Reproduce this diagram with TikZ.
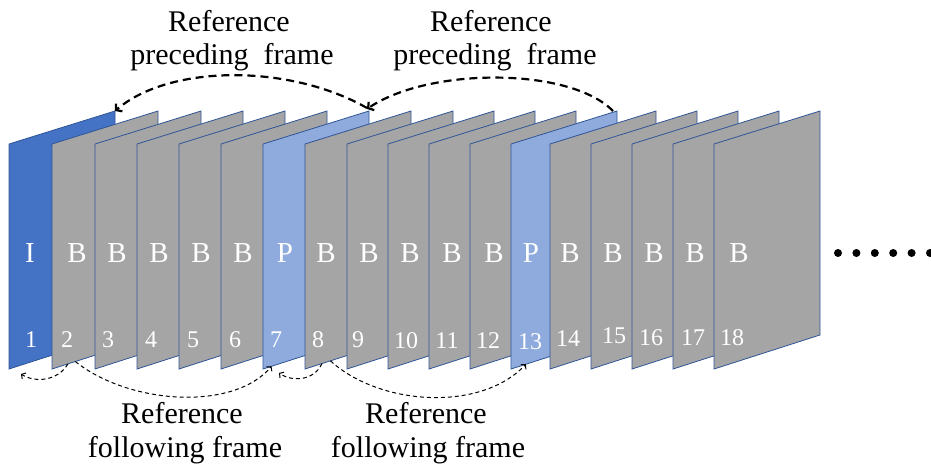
\documentclass[tikz,border=0pt]{standalone}
\usepackage{fontspec}
\setmainfont{Liberation Serif}
\usetikzlibrary{arrows.meta,calc}

\definecolor{iframe}{HTML}{4472C4}
\definecolor{pframe}{HTML}{8FAADC}
\definecolor{bframe}{HTML}{A5A5A5}
\definecolor{frameedge}{HTML}{2F5597}

\tikzset{
  frameshape/.style={draw=frameedge, line width=0.8pt, line join=miter},
  typelabel/.style={text=white, font=\fontsize{29}{29}\selectfont, anchor=base, inner sep=0pt},
  numlabel/.style={text=white, font=\fontsize{24}{24}\selectfont, anchor=base, inner sep=0pt},
  caption/.style={font=\fontsize{30}{33}\selectfont, anchor=base, inner sep=0pt},
  prevref/.style={dash pattern=on 8pt off 5pt, line width=2.2pt,
    -{Straight Barb[length=4pt,width=10pt]}},
  nextref/.style={dash pattern=on 4pt off 3pt, line width=1pt,
    -{Straight Barb[length=3pt,width=7pt]}},
}

\begin{document}
\begin{tikzpicture}[x=1pt,y=-1pt]
\useasboundingbox (0,0) rectangle (931,468);

% the frames of the sequence, drawn back to front
\foreach \n/\x/\t/\c/\lx/\nx/\ny in {
  1/9/I/iframe/30/31/347,
  2/52/B/bframe/77/67/347,
  3/95/B/bframe/117/108/347,
  4/137/B/bframe/159/151/347,
  5/179/B/bframe/201/193/347,
  6/221/B/bframe/243/235/347,
  7/263/P/pframe/285/276/347,
  8/305/B/bframe/326/318/347,
  9/347/B/bframe/369/358/347,
  10/388/B/bframe/410/406/348,
  11/429/B/bframe/452/447/348,
  12/470/B/bframe/494/488/348,
  13/511/P/pframe/531/530/349,
  14/550/B/bframe/570/568/346,
  15/591/B/bframe/613/614/343,
  16/632/B/bframe/654/651/345,
  17/673/B/bframe/695/693/345,
  18/714/B/bframe/739/732/345}
{
  \coordinate (f\n-tl) at (\x,144);
  \coordinate (f\n-tr) at (\x+106,111);
  \coordinate (f\n-br) at (\x+106,335);
  \coordinate (f\n-bl) at (\x,369);
  \draw[frameshape, fill=\c] (f\n-tl) -- (f\n-tr) -- (f\n-br) -- (f\n-bl) -- cycle;
  \node[typelabel] (t\n) at (\lx,262) {\t};
  \node[numlabel] (n\n) at (\nx,\ny) {\n};
}

% more frames follow
\foreach \i in {0,...,5}
  \fill (838+18.4*\i,253) circle (4);

% references to the preceding frame (P frames)
\draw[prevref] ([shift={(-2,-3)}]f7-tr) .. controls (290,64) and (170,64) .. (f1-tr);
\draw[prevref] ([shift={(-4,0)}]f13-tr) .. controls (570,67) and (429,67) .. ([shift={(-2,-2)}]f7-tr);

% references of the B frames
\coordinate (c2a) at ($(f2-bl)!0.15!(f2-br)$);
\coordinate (c2b) at ($(f2-bl)!0.22!(f2-br)$);
\coordinate (c8a) at ($(f8-bl)!0.16!(f8-br)$);
\coordinate (c8b) at ($(f8-bl)!0.24!(f8-br)$);
\coordinate (c7in) at ($(f7-bl)!0.08!(f7-br)$);
\coordinate (c13in) at ($(f13-bl)!0.14!(f13-br)$);

\draw[nextref] (c2a) .. controls (58,381) and (35,383) .. ([shift={(12,5)}]f1-bl);
\draw[nextref] (c2b) .. controls (130,405) and (234,411) .. (c7in);
\draw[nextref] (c8a) .. controls (314,381) and (292,382) .. ([shift={(16,4)}]f7-bl);
\draw[nextref] (c8b) .. controls (380,406) and (481,412) .. (c13in);

% captions
\node[caption] (pa1) at (229,32) {Reference};
\node[caption] (pa2) at (232,65) {preceding~~frame};
\node[caption] (pb1) at (491,32) {Reference};
\node[caption] (pb2) at (495,65) {preceding~~frame};
\node[caption] (fa1) at (182,423) {Reference};
\node[caption] (fa2) at (185,457) {following frame};
\node[caption] (fb1) at (426,423) {Reference};
\node[caption] (fb2) at (428,457) {following frame};
\end{tikzpicture}
\end{document}
